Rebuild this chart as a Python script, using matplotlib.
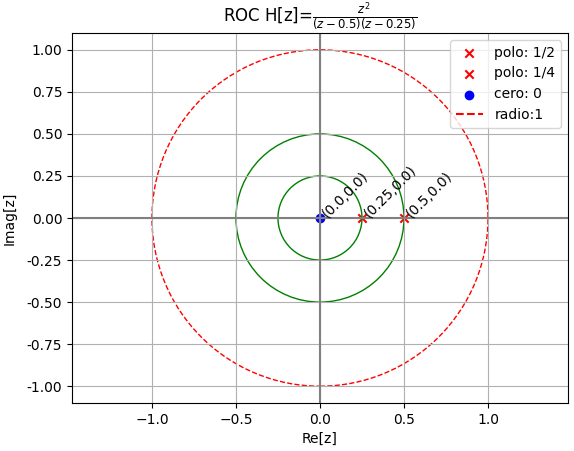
import numpy as np
import matplotlib
matplotlib.use('Agg')
import matplotlib.pyplot as plt
from matplotlib.patches import Circle

# polos y ceros de H[z] = z^2 / ((z-0.5)(z-0.25))
polos = [0.5, 0.25]
polos_etiq = ['polo: 1/2', 'polo: 1/4']
ceros = [0.0]
ceros_etiq = ['cero: 0']
radio_roc = 1.0
radios_polos = [0.5, 0.25]

fig = plt.figure(figsize=(5.74, 4.51), dpi=100)
ax = fig.add_axes([0.1254, 0.1064, 0.8641, 0.8204])

for p, et in zip(polos, polos_etiq):
    ax.scatter(p, 0, marker='x', color='red', label=et)
for c, et in zip(ceros, ceros_etiq):
    ax.scatter(c, 0, marker='o', color='blue', label=et)

# circulo de la ROC (patch) y linea solo para la leyenda
ax.add_patch(Circle((0, 0), radio_roc, fill=False, edgecolor='red', linestyle='--'))
ax.plot([], [], 'r--', label='radio:%d' % radio_roc)
for r in radios_polos:
    ax.add_patch(Circle((0, 0), r, fill=False, edgecolor='green'))

ax.axhline(0, color='grey')
ax.axvline(0, color='grey')

for x in ceros + polos[::-1]:
    ax.annotate('(%s,%s)' % (float(x), 0.0), xy=(x, 0), rotation=45)

ax.set_xlim(-1.476, 1.476)
ax.set_ylim(-1.1, 1.1)
ax.set_xticks([-1.0, -0.5, 0.0, 0.5, 1.0])
ax.set_yticks(np.arange(-1.0, 1.01, 0.25))
ax.yaxis.set_major_formatter(matplotlib.ticker.FormatStrFormatter('%.2f'))
ax.grid(True)
ax.set_xlabel('Re[z]')
ax.set_ylabel('Imag[z]', labelpad=7.5)
ax.set_title(r'ROC H[z]=$\frac{z^2}{(z-0.5)(z-0.25)}$')
ax.legend(loc='upper right')

fig.savefig('out.png')
